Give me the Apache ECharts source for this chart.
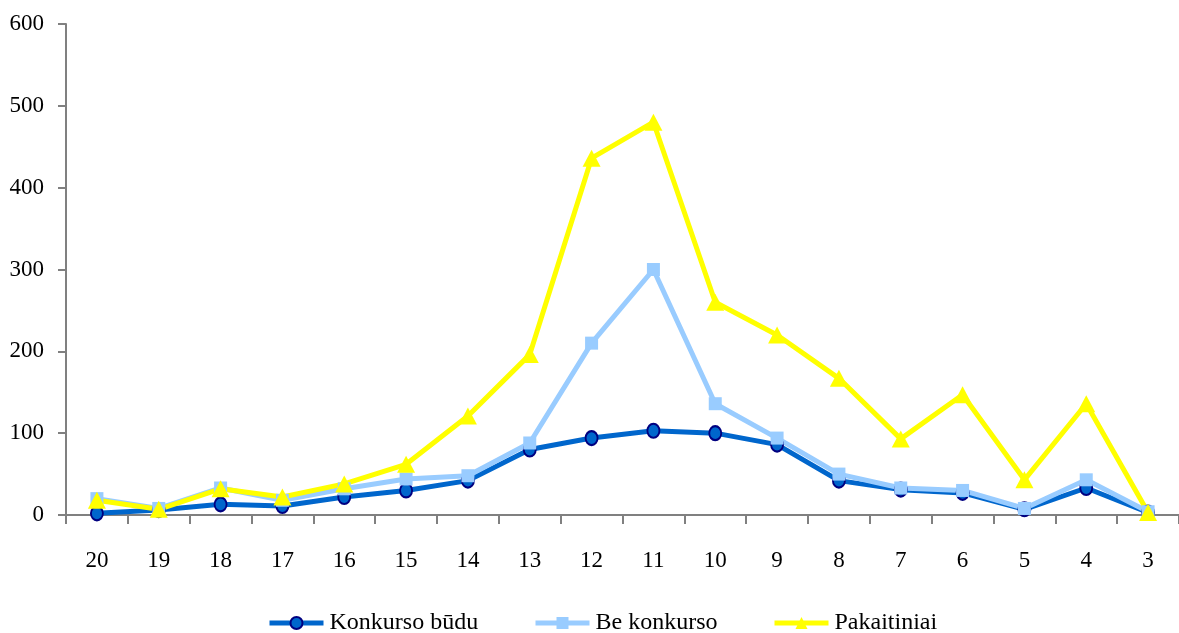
<!DOCTYPE html>
<html><head><meta charset="utf-8">
<script src="https://cdn.jsdelivr.net/npm/echarts@6/dist/echarts.min.js"></script>
<style>html,body{margin:0;padding:0;background:#fff}#c{width:1179px;height:633px}</style>
</head><body><div id="c"></div>
<script>
const categories = ['20','19','18','17','16','15','14','13','12','11','10','9','8','7','6','5','4','3'];
const konkursoBudu = [2, 6, 13, 11, 22, 30, 42, 80, 94, 103, 100, 86, 42, 31, 27, 7, 33, 3];
const beKonkurso = [20, 8, 33, 18, 32, 44, 48, 88, 210, 300, 136, 94, 50, 33, 30, 8, 43, 4];
const pakaitiniai = [18, 7, 32, 22, 38, 62, 121, 196, 436, 480, 260, 220, 167, 93, 147, 43, 136, 3];
const seriesNames = ['Konkurso būdu', 'Be konkurso', 'Pakaitiniai'];

const font = '"Liberation Serif", "Times New Roman", serif';
const legendBase = {
  top: 606, itemWidth: 54, itemHeight: 15,
  lineStyle: { width: 5 },
  textStyle: { fontFamily: font, fontSize: 24, color: '#000', padding: [0, 0, 0, 1] }
};
const chart = echarts.init(document.getElementById('c'));
chart.setOption({
  animation: false,
  textStyle: { fontFamily: font },
  grid: { left: 66, top: 24, width: 1116, bottom: 118, containLabel: false },
  legend: [
    Object.assign({ left: 262, data: [seriesNames[0]] }, legendBase),
    Object.assign({ left: 528, data: [seriesNames[1]] }, legendBase),
    Object.assign({ left: 767, data: [seriesNames[2]] }, legendBase)
  ],
  xAxis: {
    type: 'category', data: categories, boundaryGap: true,
    axisLine: { lineStyle: { color: '#808080', width: 2 } },
    axisTick: { show: true, length: 9, lineStyle: { color: '#808080', width: 2 } },
    axisLabel: { color: '#000', fontSize: 23, fontFamily: font, margin: 34 }
  },
  yAxis: {
    type: 'value', min: 0, max: 600, interval: 100,
    splitLine: { show: false },
    axisLine: { show: true, lineStyle: { color: '#808080', width: 2 } },
    axisTick: { show: true, length: 8, lineStyle: { color: '#808080', width: 2 } },
    axisLabel: { color: '#000', fontSize: 23, fontFamily: font, margin: 22 }
  },
  series: [
    { name: seriesNames[0], type: 'line', data: konkursoBudu, symbol: 'circle', symbolSize: [12, 14],
      lineStyle: { color: '#0066CC', width: 5 },
      itemStyle: { color: '#0066CC', borderColor: '#000080', borderWidth: 2 } },
    { name: seriesNames[1], type: 'line', data: beKonkurso, symbol: 'rect', symbolSize: 13,
      lineStyle: { color: '#99CCFF', width: 5 },
      itemStyle: { color: '#99CCFF', borderWidth: 0 } },
    { name: seriesNames[2], type: 'line', data: pakaitiniai, symbol: 'triangle', symbolSize: [18, 17],
      lineStyle: { color: '#FFFF00', width: 5 },
      itemStyle: { color: '#FFFF00', borderWidth: 0 } }
  ]
});
</script></body></html>
